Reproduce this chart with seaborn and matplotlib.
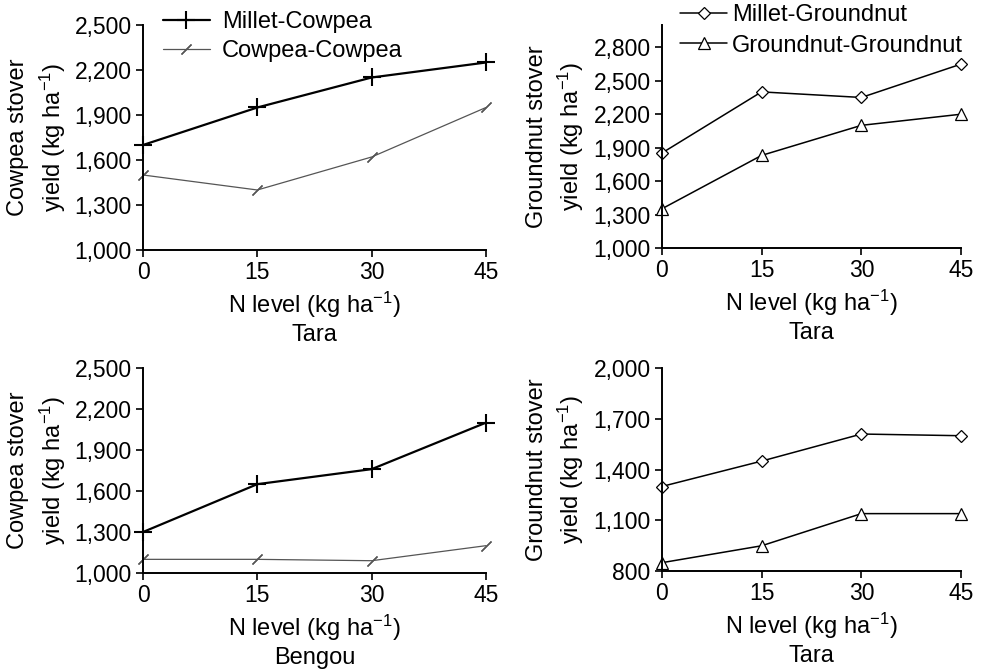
import numpy as np
import pandas as pd
import matplotlib
matplotlib.use("Agg")
import matplotlib.pyplot as plt
import seaborn as sns
from matplotlib.ticker import FuncFormatter

# N levels (kg/ha)
n_level = [0, 15, 30, 45]

# top left: cowpea stover, Tara
mc_tara = [1700, 1950, 2150, 2250]
cc_tara = [1500, 1400, 1620, 1950]
# top right: groundnut stover, Tara
mg_tara = [1850, 2400, 2350, 2650]
gg_tara = [1350, 1830, 2100, 2200]
# bottom left: cowpea stover, Bengou
mc_bengou = [1300, 1650, 1760, 2100]
cc_bengou = [1100, 1100, 1090, 1200]
# bottom right: groundnut stover, Tara
mg_tara2 = [1300, 1450, 1610, 1600]
gg_tara2 = [850, 950, 1140, 1140]

cowpea_ticks = [1000, 1300, 1600, 1900, 2200, 2500]
gn_ticks_top = [1000, 1300, 1600, 1900, 2200, 2500, 2800]
gn_ticks_bot = [800, 1100, 1400, 1700, 2000]

sns.set_style("ticks")
plt.rcParams["font.family"] = ["Liberation Sans", "DejaVu Sans"]
plt.rcParams["mathtext.default"] = "regular"
for k in ["text.color", "axes.labelcolor", "xtick.color", "ytick.color", "axes.edgecolor"]:
    plt.rcParams[k] = "black"

fig = plt.figure(figsize=(9.89, 6.72), dpi=100)
ax1 = fig.add_axes([0.1446, 0.628, 0.3468, 0.3348])
ax2 = fig.add_axes([0.669, 0.631, 0.303, 0.3318])
ax3 = fig.add_axes([0.1446, 0.1473, 0.3468, 0.3051])
ax4 = fig.add_axes([0.669, 0.150, 0.303, 0.3024])

fs_tick = 16.5
fs_lab = 17
unit = "(kg ha$^{-1}$)"
comma = FuncFormatter(lambda v, p: f"{int(v):,}")

slash = (2, 2, -45)
cow_styles = [
    dict(label="Millet-Cowpea", marker="+", color="black", lw=1.6, ms=13, mew=1.5,
         mec="black"),
    dict(label="Cowpea-Cowpea", marker=slash, color="#555555", lw=0.9, ms=10, mew=0.9,
         mec="#555555"),
]
gn_styles = [
    dict(label="Millet-Groundnut", marker="D", color="black", lw=1.1, ms=6.5,
         mfc="white", mec="black", mew=0.9),
    dict(label="Groundnut-Groundnut", marker="^", color="black", lw=1.1, ms=8,
         mfc="white", mec="black", mew=0.9),
]


def draw(ax, series, styles, ticks, ylim, ylab, site):
    for ys, st in zip(series, styles):
        df = pd.DataFrame({"N": n_level, "yield": ys})
        st = dict(st)
        lab = st.pop("label")
        sns.lineplot(data=df, x="N", y="yield", ax=ax, label=lab, clip_on=False,
                     color=st.pop("color"), linewidth=st.pop("lw"), markersize=st.pop("ms"),
                     marker=st.pop("marker"), markeredgewidth=st.pop("mew"),
                     **{k: v for k, v in st.items()})
    ax.set_xlim(0, 45)
    ax.set_ylim(*ylim)
    ax.set_xticks(n_level)
    ax.set_yticks(ticks)
    ax.yaxis.set_major_formatter(comma)
    ax.tick_params(labelsize=fs_tick, length=5, width=1.2, colors="black")
    ax.tick_params(axis="y", pad=3)
    ax.tick_params(axis="x", pad=3)
    for s in ["left", "bottom"]:
        ax.spines[s].set_linewidth(1.4)
    sns.despine(ax=ax)
    ax.set_xlabel(f"N level {unit}\n{site}", fontsize=fs_lab, labelpad=4, linespacing=1.25)
    ax.set_ylabel(f"{ylab} stover\nyield {unit}", fontsize=fs_lab, labelpad=5, linespacing=1.35)


draw(ax1, [mc_tara, cc_tara], cow_styles, cowpea_ticks, (1000, 2500), "Cowpea", "Tara")
draw(ax2, [mg_tara, gg_tara], gn_styles, gn_ticks_top, (1000, 3000), "Groundnut", "Tara")
draw(ax3, [mc_bengou, cc_bengou], cow_styles, cowpea_ticks, (1000, 2500), "Cowpea", "Bengou")
draw(ax4, [mg_tara2, gg_tara2], gn_styles, gn_ticks_bot, (800, 2000), "Groundnut", "Tara")

ax1.legend(loc="upper left", bbox_to_anchor=(0.03, 1.105), frameon=False, fontsize=fs_lab,
           handlelength=2.0, handletextpad=0.5, labelspacing=0.3, borderaxespad=0)
ax2.legend(loc="upper left", bbox_to_anchor=(0.03, 1.135), frameon=False, fontsize=fs_lab,
           handlelength=2.0, handletextpad=0.2, labelspacing=0.35, borderaxespad=0)
for ax in (ax3, ax4):
    ax.get_legend().remove()

fig.savefig("out.png", dpi=100)
